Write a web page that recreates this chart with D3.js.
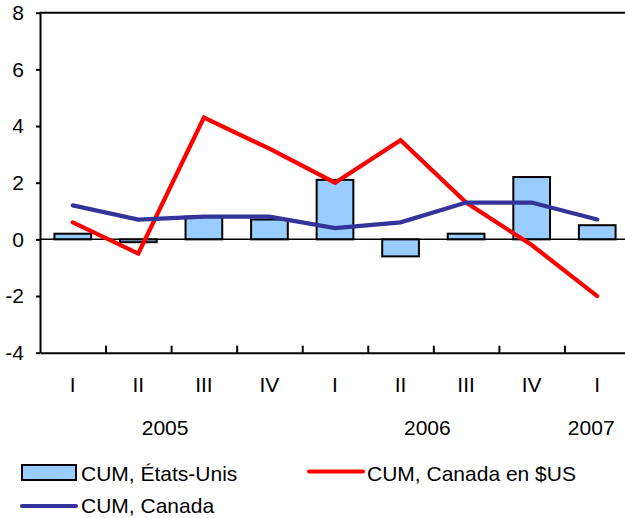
<!DOCTYPE html>
<html>
<head>
<meta charset="utf-8">
<script src="https://cdn.jsdelivr.net/npm/d3@7"></script>
<style>
  body { margin: 0; background: #fff; }
  svg { display: block; font-family: "Liberation Sans", Arial, Helvetica, sans-serif; }
  text { fill: #000; }
</style>
</head>
<body>
<div id="chart-area"></div>
<script>
// Data
const quarters = ['I', 'II', 'III', 'IV', 'I', 'II', 'III', 'IV', 'I'];
const years = ['2005', '2006', '2007'];
const yearSpans = [[0, 3], [4, 7], [8, 8]];
const usaCum = [0.2, -0.1, 0.8, 0.7, 2.1, -0.6, 0.2, 2.2, 0.5];
const canUsdCum = [0.6, -0.5, 4.3, 3.2, 2.0, 3.5, 1.3, -0.2, -2.0];
const canCum = [1.2, 0.7, 0.8, 0.8, 0.4, 0.6, 1.3, 1.3, 0.7];
const yTicks = [-4, -2, 0, 2, 4, 6, 8];
const legendLabels = ['CUM, États-Unis', 'CUM, Canada en $US', 'CUM, Canada'];

const W = 625, H = 518;
const plot = { left: 40, right: 630, top: 12.7, bottom: 352.7 };
const fontSize = '21px';

const svg = d3.select('#chart-area')
  .append('svg')
    .attr('width', W)
    .attr('height', H);

// Scales
const x = d3.scaleBand()
  .domain(d3.range(quarters.length))
  .range([plot.left, plot.right])
  .padding(0);

const xEdge = d3.scaleLinear()
  .domain([0, quarters.length])
  .range([plot.left, plot.right]);

const y = d3.scaleLinear()
  .domain([-4, 8])
  .range([plot.bottom, plot.top]);

const bw = x.bandwidth();
const barW = bw * 0.56;
const cx = (i) => x(i) + bw / 2;

// Bars
svg.append('g')
  .selectAll('rect')
  .data(usaCum)
  .enter()
  .append('rect')
    .attr('x', (d, i) => cx(i) - barW / 2)
    .attr('y', (d) => y(Math.max(0, d)))
    .attr('width', barW)
    .attr('height', (d) => Math.abs(y(d) - y(0)))
    .attr('fill', '#99ccff')
    .attr('stroke', '#000')
    .attr('stroke-width', 2);

// Zero line
svg.append('line')
  .attr('x1', plot.left).attr('x2', plot.right)
  .attr('y1', y(0)).attr('y2', y(0))
  .attr('stroke', '#000')
  .attr('stroke-width', 1.5);

// Lines
const line = d3.line()
  .x((d, i) => cx(i))
  .y((d) => y(d));

svg.append('path')
  .datum(canUsdCum)
  .attr('d', line)
  .attr('fill', 'none')
  .attr('stroke', '#ff0000')
  .attr('stroke-width', 4.2)
  .attr('stroke-linecap', 'round');

svg.append('path')
  .datum(canCum)
  .attr('d', line)
  .attr('fill', 'none')
  .attr('stroke', '#333399')
  .attr('stroke-width', 4.2)
  .attr('stroke-linecap', 'round');

// Plot frame (top)
svg.append('line')
  .attr('x1', plot.left).attr('x2', plot.right)
  .attr('y1', plot.top).attr('y2', plot.top)
  .attr('stroke', '#000')
  .attr('stroke-width', 2);

// Y Axis
const yAxisCall = d3.axisLeft(y)
  .tickValues(yTicks)
  .tickSize(4)
  .tickSizeOuter(0)
  .tickPadding(12)
  .tickFormat((d) => d);
const yAxis = svg.append('g')
  .attr('transform', 'translate(' + plot.left + ', 0)')
  .call(yAxisCall);
yAxis.select('.domain').attr('stroke-width', 2);
yAxis.selectAll('.tick line').attr('stroke-width', 2);
yAxis.selectAll('text')
  .attr('font-size', fontSize)
  .attr('font-family', null);

// X Axis: boundary ticks pointing inward
const xTickCall = d3.axisBottom(xEdge)
  .tickValues(d3.range(1, quarters.length + 1))
  .tickSize(-7)
  .tickSizeOuter(0)
  .tickFormat('');
const xTicks = svg.append('g')
  .attr('transform', 'translate(0, ' + plot.bottom + ')')
  .call(xTickCall);
xTicks.select('.domain').attr('stroke-width', 2);
xTicks.selectAll('.tick line').attr('stroke-width', 2);

// X Axis: quarter labels
const xAxisCall = d3.axisBottom(x)
  .tickSize(0)
  .tickPadding(24)
  .tickFormat((i) => quarters[i]);
const xAxis = svg.append('g')
  .attr('transform', 'translate(0, ' + plot.bottom + ')')
  .call(xAxisCall);
xAxis.select('.domain').remove();
xAxis.selectAll('text')
  .attr('font-size', fontSize)
  .attr('font-family', null);

// Year labels
svg.append('g')
  .selectAll('text')
  .data(years)
  .enter()
  .append('text')
    .attr('x', (d, i) => (cx(yearSpans[i][0]) + cx(yearSpans[i][1])) / 2 - 6)
    .attr('y', 435)
    .attr('text-anchor', 'middle')
    .attr('font-size', fontSize)
    .text((d) => d);

// Legend
const legend = svg.append('g').attr('font-size', fontSize);

legend.append('rect')
  .attr('x', 22).attr('y', 465)
  .attr('width', 54).attr('height', 15)
  .attr('fill', '#99ccff')
  .attr('stroke', '#000')
  .attr('stroke-width', 2);
legend.append('text')
  .attr('x', 81).attr('y', 481)
  .text(legendLabels[0]);

legend.append('line')
  .attr('x1', 309).attr('x2', 363)
  .attr('y1', 471.5).attr('y2', 471.5)
  .attr('stroke', '#ff0000')
  .attr('stroke-width', 4)
  .attr('stroke-linecap', 'round');
legend.append('text')
  .attr('x', 367).attr('y', 481)
  .text(legendLabels[1]);

legend.append('line')
  .attr('x1', 22).attr('x2', 76)
  .attr('y1', 506).attr('y2', 506)
  .attr('stroke', '#333399')
  .attr('stroke-width', 4)
  .attr('stroke-linecap', 'round');
legend.append('text')
  .attr('x', 81).attr('y', 513)
  .text(legendLabels[2]);
</script>
</body>
</html>
